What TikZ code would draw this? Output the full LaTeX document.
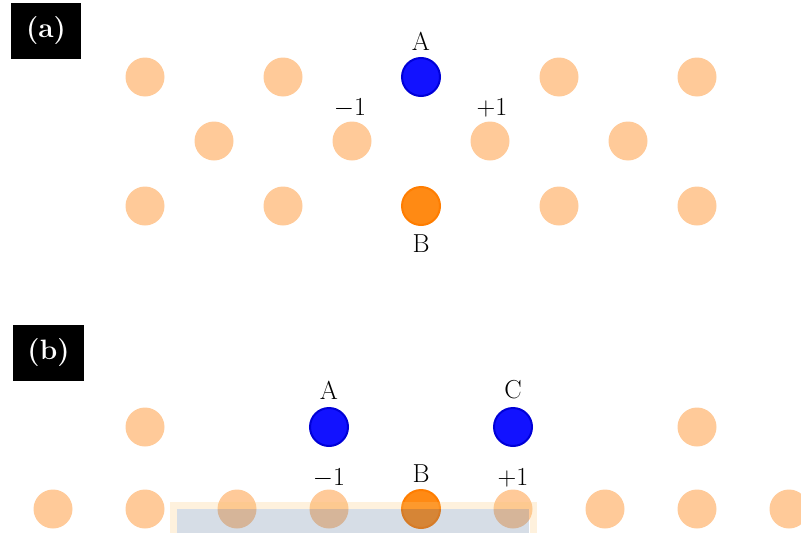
\documentclass[tikz,border=0pt]{standalone}
\usepackage{fix-cm}
\usepackage{fontspec}
\begin{document}
\begin{tikzpicture}[x=1pt,y=-1pt,
  site/.style={circle,fill=siteorange,draw=none,minimum size=39pt,inner sep=0pt},
  bluesite/.style={circle,fill=atomblue,draw=atomblueborder,line width=2pt,minimum size=38pt,inner sep=0pt},
  orangesite/.style={circle,fill=atomorange,draw=atomorangeborder,line width=2pt,minimum size=38pt,inner sep=0pt},
  lbl/.style={font=\fontsize{26}{30}\selectfont,inner sep=0pt},
  panel/.style={fill=black,text=white,font=\fontsize{28}{32}\selectfont\bfseries,inner xsep=14.7pt,minimum height=56pt}]
\definecolor{siteorange}{RGB}{255,202,153}
\definecolor{atomblue}{RGB}{18,18,255}
\definecolor{atomblueborder}{RGB}{0,0,215}
\definecolor{atomorange}{RGB}{255,138,20}
\definecolor{atomorangeborder}{RGB}{255,125,0}
\definecolor{slab}{RGB}{92,120,156}
\definecolor{slabedge}{RGB}{250,200,120}
\useasboundingbox (0,0) rectangle (801,533);
\clip (0,0) rectangle (801,533);
% ---------- panel (a) ----------
\node[panel] (pa) at (46,31) {(a)};
\node[site] (a11) at (145,77) {};
\node[site] (a12) at (283,77) {};
\node[bluesite] (aA) at (421,77) {};
\node[site] (a14) at (559,77) {};
\node[site] (a15) at (697,77) {};
\node[site] (a21) at (214,141) {};
\node[site] (am1) at (352,141) {};
\node[site] (ap1) at (490,141) {};
\node[site] (a24) at (628,141) {};
\node[site] (a31) at (145,206) {};
\node[site] (a32) at (283,206) {};
\node[orangesite] (aB) at (421,206) {};
\node[site] (a34) at (559,206) {};
\node[site] (a35) at (697,206) {};
\node[lbl] (laA) at (421,41) {A};
\node[lbl] (laB) at (421,244) {B};
\node[lbl] (lam) at (350,108) {$-1$};
\node[lbl] (lap) at (492,108) {$+1$};
% ---------- panel (b) ----------
\node[panel] (pb) at (48.5,353) {(b)};
\node[site] (b11) at (145,427) {};
\node[bluesite] (bA) at (329,427) {};
\node[bluesite] (bC) at (513,427) {};
\node[site] (b14) at (697,427) {};
\node[site] (b21) at (53,509) {};
\node[site] (b22) at (145,509) {};
\node[site] (b23) at (237,509) {};
\node[site] (bm1) at (329,509) {};
\node[orangesite] (bB) at (421,509) {};
\node[site] (bp1) at (513,509) {};
\node[site] (b27) at (605,509) {};
\node[site] (b28) at (697,509) {};
\node[site] (b29) at (789,509) {};
\node[lbl] (lbA) at (329,390) {A};
\node[lbl] (lbC) at (513,390) {C};
\node[lbl] (lbB) at (421,474) {B};
\node[lbl] (lbm) at (329,478) {$-1$};
\node[lbl] (lbp) at (513,478) {$+1$};
% slab
\fill[slab,fill opacity=0.25] (177,509) rectangle (529,560);
\draw[slabedge,draw opacity=0.25,line width=7pt] (173.5,505.5) rectangle (533,560);
\end{tikzpicture}
\end{document}
